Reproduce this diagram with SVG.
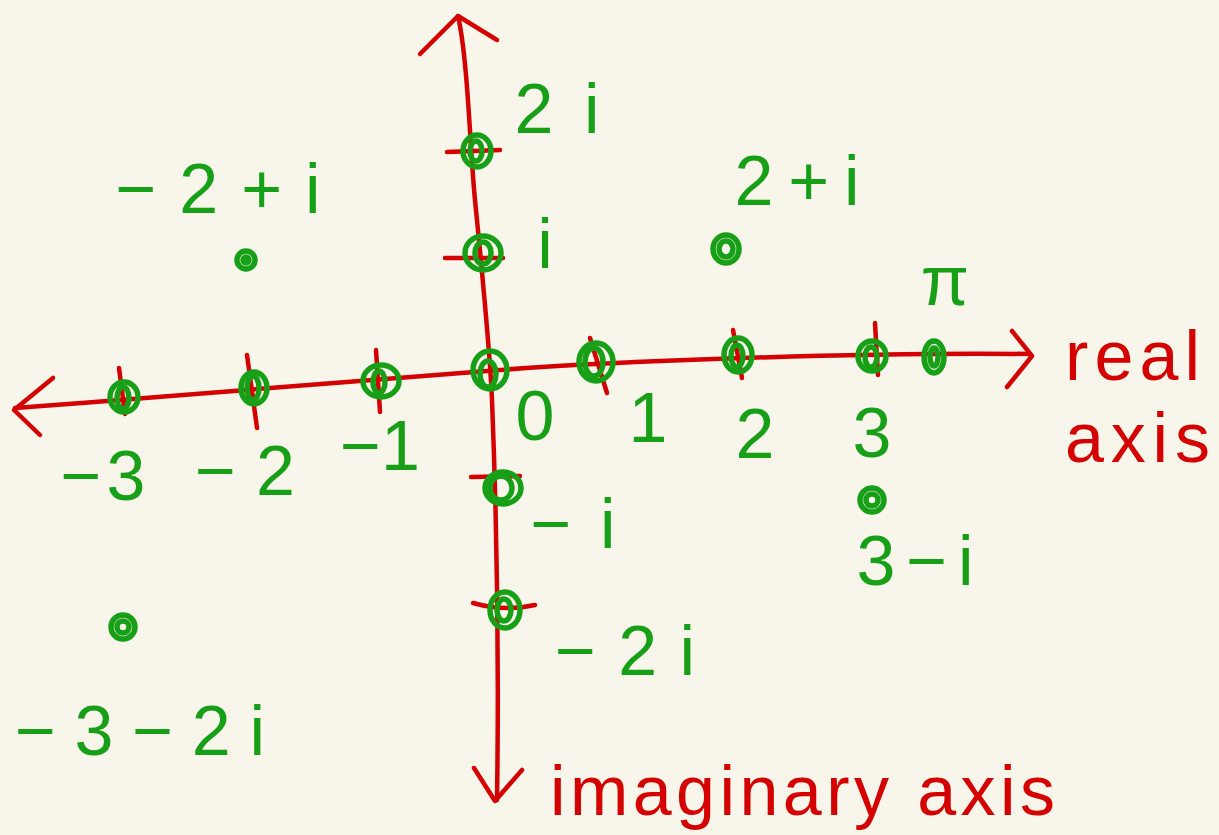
<svg xmlns="http://www.w3.org/2000/svg" width="1219" height="835" viewBox="0 0 1219 835">
<style>
.ax{fill:none;stroke:#d40000;stroke-width:4.5;stroke-linecap:round;stroke-linejoin:round}
.pt{fill:none;stroke:#17a017;stroke-width:5.5;stroke-linecap:round}
.g{fill:#17a017;font-family:"Liberation Sans",Arial,sans-serif;font-size:70px;text-anchor:middle}
.r{fill:#d40000;font-family:"Liberation Sans",Arial,sans-serif;font-size:70px}
</style>
<rect width="1219" height="835" fill="#f8f5ea"/>
<g id="axes">
<path class="ax" d="M15,408 C200,394 400,378 500,370 S850,352 1030,354"/>
<path class="ax" d="M1012,331 L1032,356 L1007,387"/>
<path class="ax" d="M53,378 L14,410 L40,435"/>
<path class="ax" d="M458,16 C468,60 470,150 475,200 S490,350 492,400 S500,600 497,800"/>
<path class="ax" d="M420,54 L458,16 L497,40"/>
<path class="ax" d="M474,768 L495,801 L522,770"/>
</g>
<g id="ticks">
<path class="ax" d="M119,368 L125,414"/>
<path class="ax" d="M247,355 L257,428"/>
<path class="ax" d="M376,350 L380,412"/>
<path class="ax" d="M590,338 L607,393"/>
<path class="ax" d="M733,330 L742,378"/>
<path class="ax" d="M875,323 L878,375"/>
<path class="ax" d="M447,152 L500,150"/>
<path class="ax" d="M445,258 L503,258"/>
<path class="ax" d="M471,477 L520,476"/>
<path class="ax" d="M473,603 Q505,612 535,605"/>
</g>
<g id="points">
<ellipse class="pt" cx="124" cy="397" rx="14" ry="15"/><ellipse class="pt" cx="123" cy="398" rx="6" ry="11"/>
<ellipse class="pt" cx="254" cy="388" rx="13" ry="16"/><ellipse class="pt" cx="253" cy="388" rx="6" ry="12"/>
<ellipse class="pt" cx="381" cy="381" rx="18" ry="16"/><ellipse class="pt" cx="379" cy="382" rx="6" ry="11"/>
<ellipse class="pt" cx="490" cy="370" rx="17" ry="19"/><ellipse class="pt" cx="488" cy="374" rx="8" ry="13"/>
<ellipse class="pt" cx="596" cy="362" rx="17" ry="19"/><ellipse class="pt" cx="594" cy="362" rx="9" ry="14"/>
<ellipse class="pt" cx="738" cy="355" rx="14" ry="17"/><ellipse class="pt" cx="737" cy="356" rx="6" ry="11"/>
<ellipse class="pt" cx="872" cy="356" rx="14" ry="15"/><ellipse class="pt" cx="871" cy="357" rx="6" ry="10"/>
<ellipse class="pt" cx="934" cy="357" rx="10" ry="16"/><ellipse class="pt" cx="934" cy="357" rx="4" ry="9"/>
<ellipse class="pt" cx="477" cy="151" rx="14" ry="16"/><ellipse class="pt" cx="476" cy="151" rx="6" ry="10"/>
<ellipse class="pt" cx="483" cy="253" rx="18" ry="17"/><ellipse class="pt" cx="483" cy="253" rx="8" ry="11"/>
<ellipse class="pt" cx="503" cy="488" rx="18" ry="16"/><ellipse class="pt" cx="501" cy="488" rx="11" ry="12"/>
<ellipse class="pt" cx="505" cy="610" rx="15" ry="18"/><ellipse class="pt" cx="504" cy="610" rx="7" ry="11"/>
<ellipse class="pt" cx="246" cy="260" rx="9" ry="9"/><circle class="pt" cx="246" cy="260" r="3"/>
<ellipse class="pt" cx="726" cy="249" rx="13" ry="14"/><ellipse class="pt" cx="726" cy="249" rx="7" ry="8"/>
<ellipse class="pt" cx="872" cy="500" rx="12" ry="12"/><ellipse class="pt" cx="872" cy="500" rx="6" ry="6"/>
<ellipse class="pt" cx="123" cy="627" rx="12" ry="12"/><ellipse class="pt" cx="123" cy="627" rx="6" ry="6"/>
</g>
<g id="labels">
<text class="g" x="557" y="133" textLength="85" lengthAdjust="spacing">2i</text>
<text class="g" x="545" y="268">i</text>
<text class="g" x="218" y="213" textLength="205" lengthAdjust="spacing">−2+i</text>
<text class="g" x="797" y="205" textLength="125" lengthAdjust="spacing">2+i</text>
<text class="g" x="945" y="305">π</text>
<text class="g" x="535" y="440">0</text>
<text class="g" x="648" y="442">1</text>
<text class="g" x="755" y="458">2</text>
<text class="g" x="872" y="457">3</text>
<text class="g" x="103" y="500" textLength="85" lengthAdjust="spacing">−3</text>
<text class="g" x="245" y="495" textLength="100" lengthAdjust="spacing">−2</text>
<text class="g" x="380" y="470">−1</text>
<text class="g" x="573" y="548" textLength="85" lengthAdjust="spacing">−i</text>
<text class="g" x="915" y="585" textLength="117" lengthAdjust="spacing">3−i</text>
<text class="g" x="625" y="675" textLength="140" lengthAdjust="spacing">−2i</text>
<text class="g" x="140" y="755" textLength="250" lengthAdjust="spacing">−3−2i</text>
<text class="r" x="1065" y="380" textLength="135" lengthAdjust="spacing">real</text>
<text class="r" x="1065" y="462" textLength="145" lengthAdjust="spacing">axis</text>
<text class="r" x="550" y="815" font-size="58" textLength="505" lengthAdjust="spacing">imaginary axis</text>
</g>
</svg>
